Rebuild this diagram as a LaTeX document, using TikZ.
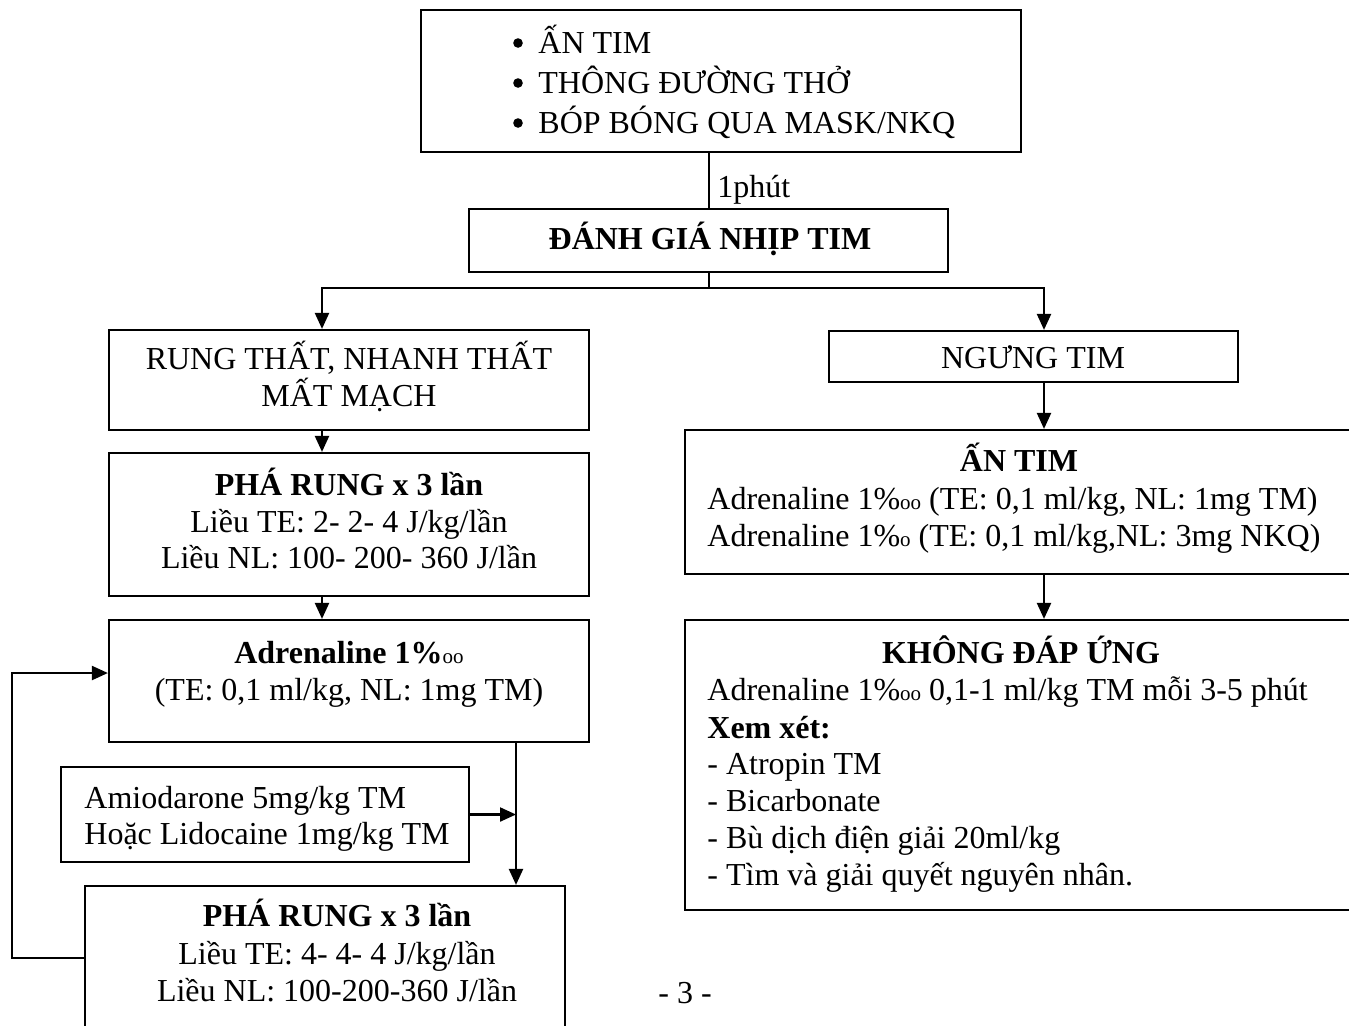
\documentclass[tikz,border=0pt]{standalone}
\usepackage{fontspec}
\setmainfont{Liberation Serif}
\usetikzlibrary{arrows.meta,calc}
\newcommand\pmoo{\%{\fontsize{10.5}{10.5}\selectfont\mdseries oo}}
\newcommand\pmo{\%{\fontsize{10.5}{10.5}\selectfont\mdseries o}}
\begin{document}
\begin{tikzpicture}[x=0.5pt,y=-0.5pt,
  txt/.style={inner sep=0pt,font=\fontsize{16}{18.5}\selectfont},
  bx/.style={draw,line width=1.1pt,inner sep=0pt},
  bul/.style={circle,fill,inner sep=0pt,minimum size=4.8pt},
  ln/.style={line width=1.1pt},
  arr/.style={line width=1.1pt,-{Triangle[length=8pt,width=7pt]}}]
\useasboundingbox (0,0) rectangle (1349,1025);
% columns
\coordinate (ca) at (709,0);
\coordinate (cl) at (322,288);
\coordinate (cr) at (1044,288);
\coordinate (cm) at (516,0);
\coordinate (fb) at (12,958);
\coordinate (fa) at (12,673);
% boxes
\node[bx,minimum width=300pt,minimum height=71pt] (top) at (721,81) {};
\node[bx,minimum width=239.5pt,minimum height=31.5pt] (danh) at (708.5,240.5) {};
\node[bx,minimum width=240pt,minimum height=50pt] (rung) at (349,380) {};
\node[bx,minimum width=240pt,minimum height=71.5pt] (pr1) at (349,524.5) {};
\node[bx,minimum width=240pt,minimum height=61pt] (adr) at (349,681) {};
\node[bx,minimum width=204pt,minimum height=47.5pt] (amio) at (265,814.5) {};
\node[bx,minimum width=240pt,minimum height=87pt] (pr2) at (325,973) {};
\node[bx,minimum width=204.5pt,minimum height=25.5pt] (ngung) at (1033.5,356.5) {};
\node[bx,minimum width=347.5pt,minimum height=72pt] (antim) at (1032.5,502) {};
\node[bx,minimum width=347.5pt,minimum height=145pt] (khong) at (1032.5,765) {};
% connectors
\draw[ln] (top.south -| ca) -- (danh.north -| ca);
\node[txt,anchor=base west] (lbl) at (717,197) {1phút};
\coordinate (junc) at (709,288);
\draw[ln] (danh.south -| ca) -- (junc);
\draw[arr] (junc) -| (rung.north -| cl);
\draw[arr] (junc) -| (ngung.north -| cr);
\draw[arr] (rung.south -| cl) -- (pr1.north -| cl);
\draw[arr] (pr1.south -| cl) -- (adr.north -| cl);
\draw[arr] (adr.south -| cm) -- (pr2.north -| cm);
\draw[arr] (amio.east) -- (amio.east -| cm);
\draw[arr] (pr2.west |- fb) -- (fb) -- (fa) -- (adr.west |- fa);
\draw[arr] (ngung.south -| cr) -- (antim.north -| cr);
\draw[arr] (antim.south -| cr) -- (khong.north -| cr);
% top box text
\foreach \n/\y/\t in {b1/53/{ẤN TIM}, b2/93/{THÔNG ĐƯỜNG THỞ}, b3/133/{BÓP BÓNG QUA MASK/NKQ}}{
  \node[bul] (\n d) at (518,\y-10) {};
  \node[txt,anchor=base west] (\n) at (538,\y) {\t};
}
\node[txt,anchor=base,font=\fontsize{16}{18.5}\selectfont\bfseries] (t1) at (710,249) {ĐÁNH GIÁ NHỊP TIM};
% left column
\node[txt,anchor=base] (r1) at (349,369) {RUNG THẤT, NHANH THẤT};
\node[txt,anchor=base] (r2) at (349,406) {MẤT MẠCH};
\node[txt,anchor=base,font=\fontsize{16}{18.5}\selectfont\bfseries] (p1) at (349,495) {PHÁ RUNG x 3 lần};
\node[txt,anchor=base] (p2) at (349,532) {Liều TE: 2- 2- 4 J/kg/lần};
\node[txt,anchor=base] (p3) at (349,568) {Liều NL: 100- 200- 360 J/lần};
\node[txt,anchor=base,font=\fontsize{16}{18.5}\selectfont\bfseries] (a1) at (349,663) {Adrenaline 1\pmoo};
\node[txt,anchor=base] (a2) at (349,700) {(TE: 0,1 ml/kg, NL: 1mg TM)};
\node[txt,anchor=base west] (m1) at (84,808) {Amiodarone 5mg/kg TM};
\node[txt,anchor=base west] (m2) at (84,844) {Hoặc Lidocaine 1mg/kg TM};
\node[txt,anchor=base,font=\fontsize{16}{18.5}\selectfont\bfseries] (q1) at (337,926) {PHÁ RUNG x 3 lần};
\node[txt,anchor=base] (q2) at (337,964) {Liều TE: 4- 4- 4 J/kg/lần};
\node[txt,anchor=base] (q3) at (337,1001) {Liều NL: 100-200-360 J/lần};
% right column
\node[txt,anchor=base] (n1) at (1033,368) {NGƯNG TIM};
\node[txt,anchor=base,font=\fontsize{16}{18.5}\selectfont\bfseries] (s1) at (1019,471) {ẤN TIM};
\node[txt,anchor=base west] (s2) at (707,509) {Adrenaline 1\pmoo{} (TE: 0,1 ml/kg, NL: 1mg TM)};
\node[txt,anchor=base west] (s3) at (707,546) {Adrenaline 1\pmo{} (TE: 0,1 ml/kg,NL: 3mg NKQ)};
\node[txt,anchor=base,font=\fontsize{16}{18.5}\selectfont\bfseries] (k1) at (1021,663) {KHÔNG ĐÁP ỨNG};
\node[txt,anchor=base west] (k2) at (707,700) {Adrenaline 1\pmoo{} 0,1-1 ml/kg TM mỗi 3-5 phút};
\node[txt,anchor=base west,font=\fontsize{16}{18.5}\selectfont\bfseries] (k3) at (707,738) {Xem xét:};
\node[txt,anchor=base west] (k4) at (707,774) {- Atropin TM};
\node[txt,anchor=base west] (k5) at (707,811) {- Bicarbonate};
\node[txt,anchor=base west] (k6) at (707,848) {- Bù dịch điện giải 20ml/kg};
\node[txt,anchor=base west] (k7) at (707,885) {- Tìm và giải quyết nguyên nhân.};
\node[txt,anchor=base] (pg) at (685,1003) {- 3 -};
\end{tikzpicture}
\end{document}
